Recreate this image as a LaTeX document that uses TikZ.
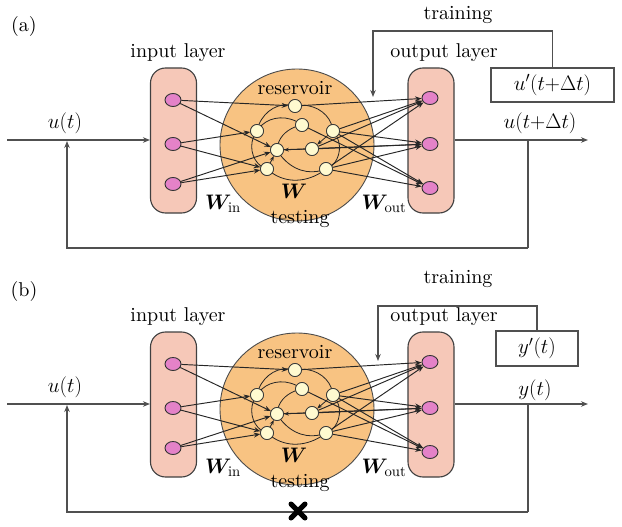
\documentclass[tikz,border=0pt]{standalone}
\usepackage{fix-cm}
\usepackage{fontspec}
\setmainfont{lmroman10-regular.otf}
\usepackage{bm}
\usetikzlibrary{arrows.meta,shapes.geometric}
\definecolor{resorange}{RGB}{248,195,130}
\definecolor{layerpink}{RGB}{246,200,184}
\definecolor{nodepink}{RGB}{228,130,200}
\definecolor{nodeyellow}{RGB}{255,250,208}
\definecolor{sigline}{RGB}{80,80,80}
\tikzset{
  layer/.style={draw=black!75, fill=layerpink, rounded corners=15pt, line width=1.1pt, minimum width=46pt, minimum height=145pt, inner sep=0pt},
  resv/.style={ellipse, draw=black!70, fill=resorange, line width=0.9pt, minimum width=154pt, minimum height=152pt, inner sep=0pt},
  inode/.style={ellipse, draw=black!80, fill=nodepink, minimum width=16pt, minimum height=13pt, inner sep=0pt, line width=0.9pt},
  rnode/.style={circle, draw=black!80, fill=nodeyellow, minimum size=13pt, inner sep=0pt, line width=0.7pt},
  conn/.style={-{Stealth[length=6.5pt,width=5pt]}, line width=0.95pt, black!85},
  rconn/.style={-{Stealth[length=5pt,width=3.8pt]}, line width=0.8pt, black!85},
  sig/.style={line width=1.3pt, sigline},
  sigarrow/.style={sig, -{Stealth[length=7pt,width=5.5pt]}},
  lbl/.style={font=\fontsize{20}{24}\selectfont, inner sep=0pt},
  mlbl/.style={font=\fontsize{21}{25}\selectfont, inner sep=0pt},
  valbox/.style={draw=sigline, line width=1.3pt, inner sep=0pt, font=\fontsize{21}{25}\selectfont}
}
\newcommand\drawpanel[2]{%
\begin{scope}[yshift=-#2pt, name prefix=#1-]
  \node[layer] (inl) at (173.5,140.5) {};
  \node[layer] (outl) at (431,140.5) {};
  \node[resv] (res) at (297,145) {};
  \node[inode] (in1) at (173,100) {};
  \node[inode] (in2) at (173,144) {};
  \node[inode] (in3) at (173,184) {};
  \node[inode] (o1) at (430,98) {};
  \node[inode] (o2) at (430,144) {};
  \node[inode] (o3) at (430,188) {};
  \node[rnode] (r1) at (295,106) {};
  \node[rnode] (r2) at (257,131) {};
  \node[rnode] (r3) at (302,125) {};
  \node[rnode] (r4) at (333,131) {};
  \node[rnode] (r5) at (277,150) {};
  \node[rnode] (r6) at (312,149) {};
  \node[rnode] (r7) at (267,169) {};
  \node[rnode] (r8) at (326,169) {};
  \foreach \a/\b in {in1/r1,in1/r5,in2/r2,in2/r7,in3/r5,in3/r7}
    \draw[conn] (\a) -- (\b);
  \foreach \a/\b in {r1/o1,r4/o1,r6/o1,r8/o1,r4/o2,r6/o2,r8/o2,r5/o2,r4/o3,r8/o3,r3/o3}
    \draw[conn] (\a) -- (\b);
  \draw[rconn] (r2) to[bend left=40] (r1);
  \draw[rconn] (r1) to[bend left=40] (r4);
  \draw[rconn] (r4) to[bend left=45] (r8);
  \draw[rconn] (r8) to[bend left=35] (r7);
  \draw[rconn] (r3) to[bend right=30] (r5);
  \draw[rconn] (r6) -- (r5);
  \draw[rconn] (r7) -- (r5);
  \draw[rconn] (r2) to[bend right=45] (r7);
  \draw[rconn] (r5) to[bend right=35] (r8);
  \draw[rconn] (r3) to[bend right=40] (r2);
  \draw[rconn] (r4) -- (r6);
  \node[rnode] at (r1) {};
  \node[rnode] at (r2) {};
  \node[rnode] at (r3) {};
  \node[rnode] at (r4) {};
  \node[rnode] at (r5) {};
  \node[rnode] at (r6) {};
  \node[rnode] at (r7) {};
  \node[rnode] at (r8) {};
  \node[lbl] (tin) at (178,53) {input layer};
  \node[lbl] (tout) at (444,53) {output layer};
  \node[lbl] (tres) at (295,88) {reservoir};
  \node[mlbl] (tw) at (294,191) {$\bm{W}$};
  \node[mlbl] (twin) at (223,204) {$\bm{W}_{\mathrm{in}}$};
  \node[mlbl] (twout) at (384,204) {$\bm{W}_{\mathrm{out}}$};
  \node[lbl] (ttest) at (300,219) {testing};
  \node[mlbl] (tut) at (65,123) {$u(t)$};
  \node[lbl] (ttrain) at (458,15) {training};
  \coordinate (start) at (7,140);
  \coordinate (inp) at (67,141);
  \coordinate (fb) at (528,140);
  \coordinate (fbc) at (528,248);
  \coordinate (endp) at (588,140);
  \draw[sigarrow] (start) -- (inl.west |- start);
  \draw[sigarrow] (outl.east |- endp) -- (endp);
  \draw[sig] (fb) -- (fbc);
  \draw[sigarrow] (fbc) -| (inp);
\end{scope}}
\begin{document}
\begin{tikzpicture}[x=1pt,y=-1pt]
  \useasboundingbox (0,0) rectangle (622,527);
  \drawpanel{a}{0}
  \drawpanel{b}{264}
  % panel (a) specifics
  \node[lbl] (labA) at (24,27) {(a)};
  \node[valbox, minimum width=123pt, minimum height=34pt] (tgtA) at (552.5,85) {$u'(t{+}\Delta t)$};
  \node[mlbl] (outA) at (540,123) {$u(t{+}\Delta t)$};
  \coordinate (trA) at (373,97);
  \draw[sigarrow] (tgtA.north) -- (552.5,31) -| (trA);
  % panel (b) specifics
  \node[lbl] (labB) at (24,291) {(b)};
  \node[valbox, minimum width=82pt, minimum height=35pt] (tgtB) at (537,348.5) {$y'(t)$};
  \node[mlbl] (outB) at (535,390) {$y(t)$};
  \coordinate (trB) at (378,361);
  \draw[sigarrow] (tgtB.north) -- (537,306) -| (trB);
  \coordinate (cut) at (298,511);
  \draw[line width=5pt, black, line cap=round] ([shift={(-7,-7)}]cut) -- ([shift={(7,7)}]cut)
        ([shift={(-7,7)}]cut) -- ([shift={(7,-7)}]cut);
\end{tikzpicture}
\end{document}
